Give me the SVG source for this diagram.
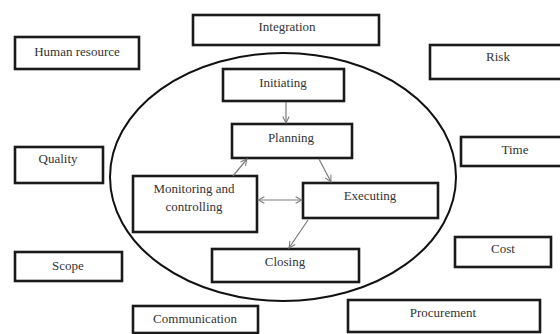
<svg xmlns="http://www.w3.org/2000/svg" width="560" height="334" viewBox="0 0 560 334">
<defs>
<style>
.box{fill:#fff;stroke:#1a1a1a;stroke-width:2.6}
.t{font-family:"Liberation Serif","Times New Roman",serif;font-size:13px;fill:#333;text-anchor:middle}
.c{stroke:#7a7a7a;stroke-width:1.2;fill:none}
</style>
<marker id="ah" viewBox="0 0 10 10" refX="9" refY="5" markerWidth="8" markerHeight="8" orient="auto-start-reverse" markerUnits="userSpaceOnUse">
<path d="M1,1 L9,5 L1,9" fill="none" stroke="#7a7a7a" stroke-width="1.3"/>
</marker>
</defs>
<rect width="560" height="334" fill="#fff"/>
<ellipse cx="283" cy="177" rx="173" ry="124" fill="none" stroke="#111" stroke-width="2"/>
<g id="human-resource"><rect class="box" x="15" y="37" width="124" height="32"/><text class="t" x="77" y="56">Human resource</text></g>
<g id="integration"><rect class="box" x="193" y="15" width="186" height="30"/><text class="t" x="287" y="31">Integration</text></g>
<g id="risk"><rect class="box" x="430" y="45" width="140" height="34"/><text class="t" x="498" y="61">Risk</text></g>
<g id="time"><rect class="box" x="461" y="137" width="110" height="29"/><text class="t" x="515" y="154">Time</text></g>
<g id="quality"><rect class="box" x="15" y="147" width="88" height="36"/><text class="t" x="58" y="163">Quality</text></g>
<g id="scope"><rect class="box" x="15" y="252" width="107" height="29"/><text class="t" x="68" y="270">Scope</text></g>
<g id="cost"><rect class="box" x="455" y="237" width="96" height="30"/><text class="t" x="503" y="253">Cost</text></g>
<g id="communication"><rect class="box" x="133" y="306" width="125" height="27"/><text class="t" x="195" y="323">Communication</text></g>
<g id="procurement"><rect class="box" x="348" y="300" width="192" height="32"/><text class="t" x="443" y="317">Procurement</text></g>
<g id="initiating"><rect class="box" x="223" y="69" width="121" height="32"/><text class="t" x="283" y="87">Initiating</text></g>
<g id="planning"><rect class="box" x="232" y="124" width="120" height="34"/><text class="t" x="291" y="142">Planning</text></g>
<g id="monitoring"><rect class="box" x="133" y="176" width="124" height="56"/><text class="t" x="194" y="193">Monitoring and</text><text class="t" x="194" y="211">controlling</text></g>
<g id="executing"><rect class="box" x="303" y="183" width="135" height="35"/><text class="t" x="370" y="200">Executing</text></g>
<g id="closing"><rect class="box" x="212" y="249" width="147" height="33"/><text class="t" x="285" y="266">Closing</text></g>
<g id="connectors">
<line class="c" x1="286" y1="102" x2="286" y2="123" marker-end="url(#ah)"/>
<line class="c" x1="233" y1="176" x2="247" y2="159" marker-end="url(#ah)"/>
<line class="c" x1="319" y1="159" x2="331" y2="182" marker-end="url(#ah)"/>
<line class="c" x1="258" y1="200" x2="302" y2="200" marker-start="url(#ah)" marker-end="url(#ah)"/>
<line class="c" x1="308" y1="220" x2="289" y2="248" marker-end="url(#ah)"/>
</g>
</svg>
